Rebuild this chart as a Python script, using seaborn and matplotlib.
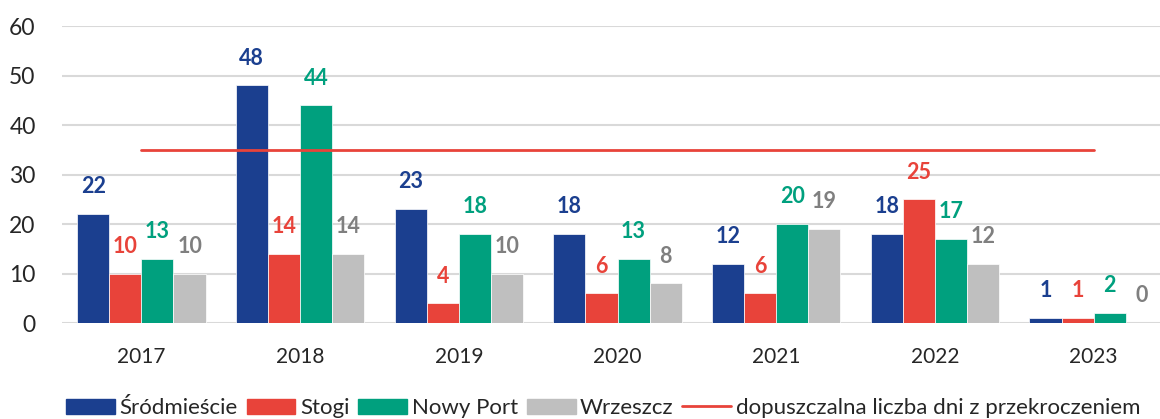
import numpy as np
import pandas as pd
import matplotlib
matplotlib.use("Agg")
import matplotlib.pyplot as plt
import seaborn as sns
from matplotlib.patches import Patch
from matplotlib.lines import Line2D

years = ["2017", "2018", "2019", "2020", "2021", "2022", "2023"]
stations = ["Śródmieście", "Stogi", "Nowy Port", "Wrzeszcz"]
srodmiescie = [22, 48, 23, 18, 12, 18, 1]
stogi = [10, 14, 4, 6, 6, 25, 1]
nowy_port = [13, 44, 18, 13, 20, 17, 2]
wrzeszcz = [10, 14, 10, 8, 19, 12, 0]
limit = 35
limit_label = "dopuszczalna liczba dni z przekroczeniem"

bar_colors = ["#1B3F8F", "#E8433A", "#00A07E", "#BFBFBF"]
label_colors = ["#1B3F8F", "#E8433A", "#00A07E", "#7F7F7F"]

df = pd.DataFrame({
    "rok": years * 4,
    "stacja": sum([[s] * len(years) for s in stations], []),
    "dni": srodmiescie + stogi + nowy_port + wrzeszcz,
})

sns.set_style("white")
plt.rcParams["font.family"] = ["Lato", "DejaVu Sans"]

fig = plt.figure(figsize=(11.6, 4.19), dpi=100)
ax = fig.add_axes([62 / 1160, 1 - 323 / 419, (1173 - 62) / 1160, (323 - 26) / 419])

sns.barplot(data=df, x="rok", y="dni", hue="stacja", hue_order=stations,
            palette=bar_colors, width=0.81, saturation=1, ax=ax, legend=False,
            edgecolor="white", linewidth=0.5)

for cont, col in zip(ax.containers, label_colors):
    ax.bar_label(cont, padding=12, color=col, fontsize=15.5, fontweight="bold")

ax.plot([0, len(years) - 1], [limit, limit], color="#E8433A", lw=2)

ax.set_ylim(0, 60)
ax.set_yticks(range(0, 61, 10))
ax.set_xlim(-0.5, len(years) - 0.5)
ax.yaxis.grid(True, color="#D9D9D9", lw=1.5)
ax.set_axisbelow(True)
sns.despine(ax=ax, left=True, bottom=True)
ax.tick_params(axis="y", length=0, pad=19, labelsize=16.5)
ax.tick_params(axis="x", length=0, pad=17, labelsize=15)
ax.set_xlabel("")
ax.set_ylabel("")

handles = [Patch(color=c) for c in bar_colors] + [Line2D([], [], color="#E8433A", lw=2)]
fig.legend(handles, stations + [limit_label], loc="center", bbox_to_anchor=(0.52, 1 - 408 / 419),
           ncol=5, frameon=False, fontsize=16, handlelength=2.2, handleheight=0.65,
           handletextpad=0.2, columnspacing=0.4)

fig.savefig("out.png", dpi=100)
